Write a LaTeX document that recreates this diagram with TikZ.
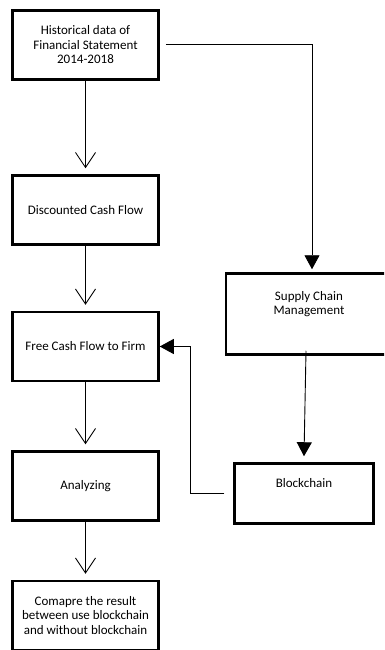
\documentclass[tikz,border=0pt]{standalone}
\usepackage{fontspec}
\setmainfont{Carlito}
\usetikzlibrary{arrows.meta}
\begin{document}
\begin{tikzpicture}[x=1pt,y=-1pt,
  box/.style={draw=black, line width=2.5pt, rectangle, minimum width=146pt, minimum height=69pt, inner sep=0pt, align=center, font=\fontsize{13}{14.5}\selectfont},
  lbl/.style={inner sep=0pt, align=center, font=\fontsize{13}{14.5}\selectfont},
  openarr/.style={draw=black, line width=0.9pt, -{Straight Barb[length=15pt,width=20pt,line width=0.9pt]}},
  fillarr/.style={draw=black, line width=0.9pt, -{Triangle[length=14pt,width=15pt]}}]
\useasboundingbox (0,0) rectangle (384,650);
\clip (0,0) rectangle (384,650);
\fill[white] (0,0) rectangle (384,650);
\node[box] (hist) at (85.5,45) {Historical data of\\Financial Statement\\2014-2018};
\node[box] (dcf) at (85.5,210) {Discounted Cash Flow};
\node[box] (fcf) at (85.5,346.5) {Free Cash Flow to Firm};
\node[box] (ana) at (85.5,486) {Analyzing};
\node[box] (cmp) at (85.5,615.5) {Comapre the result\\between use blockchain\\and without blockchain};
\node[box, minimum width=166pt, minimum height=81pt] (scm) at (309,314) {};
\node[lbl] (scmt) at (309,304) {Supply Chain\\Management};
\node[box, minimum width=139pt, minimum height=60pt] (bc) at (304,493.5) {};
\node[lbl] (bct) at (304,483) {Blockchain};
\draw[openarr, shorten >=6pt] (hist) -- (dcf);
\draw[openarr, shorten >=6pt] (dcf) -- (fcf);
\draw[openarr, shorten >=6pt] (fcf) -- (ana);
\draw[openarr, shorten >=6pt] (ana) -- (cmp);
\draw[fillarr] ([xshift=6pt,yshift=1pt]hist.east) -| ([xshift=3pt,yshift=3pt]scm.north);
\draw[fillarr] ([xshift=-3pt,yshift=5pt]scm.south) -- ([yshift=6pt]bc.north);
\draw[fillarr] ([xshift=-9pt]bc.west) -| ([xshift=31pt]fcf.east) -- (fcf.east);
\end{tikzpicture}
\end{document}
